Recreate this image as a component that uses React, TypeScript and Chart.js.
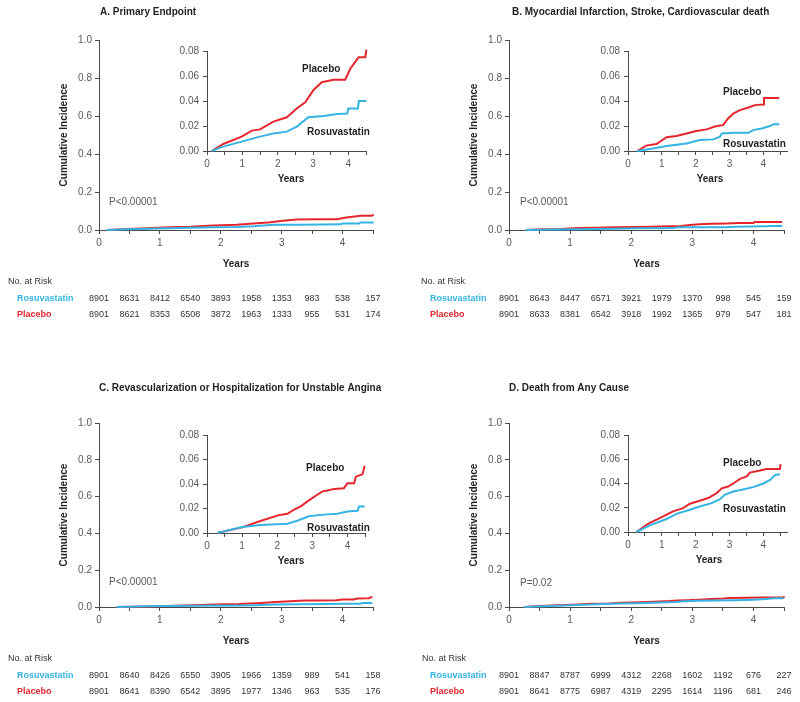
import React, { useEffect, useRef } from 'react';
import { Chart, registerables } from 'chart.js';

Chart.register(...registerables);

const FONT = "'Liberation Sans', Arial, Helvetica, sans-serif";
const RED = '#e5262d';
const BLUE = '#35b4e4';
const AXIS = '#4a4a4a';
const TICK = '#58595b';
const DARK = '#231f20';

// ---------- data ----------
const riskYears = [0, 0.5, 1, 1.5, 2, 2.5, 3, 3.5, 4, 4.5];

// Panel A: Primary Endpoint
const aPlaceboT = [0.13, 0.46, 0.98, 1.27, 1.5, 1.88, 2.26, 2.54, 2.78, 3.02, 3.25, 3.58, 3.91, 4.06, 4.2, 4.29, 4.48, 4.51];
const aPlaceboV = [0, 0.0056, 0.0115, 0.0163, 0.0173, 0.0235, 0.027, 0.034, 0.039, 0.049, 0.055, 0.057, 0.057, 0.066, 0.0715, 0.075, 0.075, 0.081];
const aRosuT = [0.13, 0.46, 0.98, 1.5, 1.88, 2.26, 2.54, 2.87, 3.3, 3.68, 3.97, 4.0, 4.27, 4.3, 4.51];
const aRosuV = [0, 0.0035, 0.0075, 0.0115, 0.014, 0.0155, 0.0195, 0.027, 0.028, 0.0296, 0.03, 0.034, 0.034, 0.04, 0.04];
const aRiskRosu = [8901, 8631, 8412, 6540, 3893, 1958, 1353, 983, 538, 157];
const aRiskPlacebo = [8901, 8621, 8353, 6508, 3872, 1963, 1333, 955, 531, 174];

// Panel B: MI, Stroke, CV death
const bPlaceboT = [0.27, 0.54, 0.84, 1.14, 1.43, 1.73, 2.02, 2.32, 2.62, 2.81, 2.96, 3.11, 3.31, 3.56, 3.75, 4.0, 4.02, 4.47];
const bPlaceboV = [0, 0.0043, 0.0056, 0.011, 0.012, 0.014, 0.016, 0.0173, 0.02, 0.0207, 0.026, 0.03, 0.0327, 0.0348, 0.0367, 0.0372, 0.0425, 0.0425];
const bRosuT = [0.27, 0.74, 1.14, 1.73, 2.12, 2.52, 2.72, 2.77, 3.11, 3.56, 3.7, 3.95, 4.2, 4.3, 4.47];
const bRosuV = [0, 0.002, 0.004, 0.006, 0.0088, 0.0093, 0.0114, 0.014, 0.0146, 0.0146, 0.0167, 0.018, 0.02, 0.0215, 0.0215];
const bRiskRosu = [8901, 8643, 8447, 6571, 3921, 1979, 1370, 998, 545, 159];
const bRiskPlacebo = [8901, 8633, 8381, 6542, 3918, 1992, 1365, 979, 547, 181];

// Panel C: Revascularization or Hospitalization for Unstable Angina
const cPlaceboT = [0.29, 1.0, 1.52, 2.05, 2.29, 2.48, 2.67, 2.9, 3.14, 3.29, 3.43, 3.62, 3.9, 4.0, 4.19, 4.24, 4.43, 4.49];
const cPlaceboV = [0, 0.0046, 0.0098, 0.0146, 0.0157, 0.019, 0.0217, 0.0266, 0.0312, 0.034, 0.0347, 0.036, 0.0366, 0.0407, 0.0407, 0.046, 0.048, 0.0548];
const cRosuT = [0.29, 1.0, 1.52, 2.29, 2.57, 2.9, 3.33, 3.71, 4.0, 4.29, 4.33, 4.49];
const cRosuV = [0, 0.0049, 0.0065, 0.0076, 0.01, 0.0136, 0.015, 0.0157, 0.0176, 0.0182, 0.0217, 0.0217];
const cRiskRosu = [8901, 8640, 8426, 6550, 3905, 1966, 1359, 989, 541, 158];
const cRiskPlacebo = [8901, 8641, 8390, 6542, 3895, 1977, 1346, 963, 535, 176];

// Panel D: Death from Any Cause
const dPlaceboT = [0.25, 0.59, 1.04, 1.33, 1.63, 1.83, 2.12, 2.37, 2.62, 2.77, 2.96, 3.11, 3.31, 3.51, 3.6, 3.9, 4.1, 4.49, 4.51];
const dPlaceboV = [0, 0.0068, 0.0129, 0.017, 0.0197, 0.0233, 0.0258, 0.028, 0.032, 0.036, 0.0375, 0.04, 0.0438, 0.0458, 0.049, 0.0507, 0.052, 0.052, 0.056];
const dRosuT = [0.25, 0.64, 1.14, 1.43, 1.83, 2.12, 2.47, 2.72, 2.86, 3.11, 3.36, 3.7, 4.0, 4.2, 4.35, 4.49];
const dRosuV = [0, 0.0055, 0.0107, 0.015, 0.0184, 0.021, 0.0238, 0.027, 0.0307, 0.0334, 0.0348, 0.037, 0.04, 0.043, 0.047, 0.0477];
const dRiskRosu = [8901, 8847, 8787, 6999, 4312, 2268, 1602, 1192, 676, 227];
const dRiskPlacebo = [8901, 8641, 8775, 6987, 4319, 2295, 1614, 1196, 681, 246];

// ---------- layout ----------
type Box = { L: number; T: number; R: number; B: number };
type Panel = {
  key: string; ox: number; oy: number; title: string; titleX: number; titleY: number;
  pText: string; pX: number; pY: number; main: Box; inset: Box; insetMax: number; insetYearsX: number;
  placeboLbl: [number, number]; rosuLbl: [number, number]; noRiskX: number; tableLblX: number;
  plaT: number[]; plaV: number[]; rosT: number[]; rosV: number[]; riskR: number[]; riskP: number[];
};

const panels: Panel[] = [
  {
    key: 'A', ox: 0, oy: 0, title: 'A. Primary Endpoint', titleX: 100, titleY: 12,
    pText: 'P<0.00001', pX: 109, pY: 202,
    main: { L: 99, T: 40, R: 373, B: 230 }, inset: { L: 207, T: 51, R: 366, B: 151 }, insetMax: 4.5, insetYearsX: 291,
    placeboLbl: [302, 69], rosuLbl: [307, 132], noRiskX: 8, tableLblX: 17,
    plaT: aPlaceboT, plaV: aPlaceboV, rosT: aRosuT, rosV: aRosuV, riskR: aRiskRosu, riskP: aRiskPlacebo,
  },
  {
    key: 'B', ox: 400, oy: 0, title: 'B. Myocardial Infarction, Stroke, Cardiovascular death', titleX: 512, titleY: 12,
    pText: 'P<0.00001', pX: 520, pY: 202,
    main: { L: 509, T: 40, R: 784, B: 230 }, inset: { L: 628, T: 51, R: 787, B: 151 }, insetMax: 4.7, insetYearsX: 710,
    placeboLbl: [723, 92], rosuLbl: [723, 144], noRiskX: 421, tableLblX: 430,
    plaT: bPlaceboT, plaV: bPlaceboV, rosT: bRosuT, rosV: bRosuV, riskR: bRiskRosu, riskP: bRiskPlacebo,
  },
  {
    key: 'C', ox: 0, oy: 351, title: 'C. Revascularization or Hospitalization for Unstable Angina', titleX: 99, titleY: 388,
    pText: 'P<0.00001', pX: 109, pY: 582,
    main: { L: 99, T: 423, R: 373, B: 607 }, inset: { L: 207, T: 435, R: 365, B: 533 }, insetMax: 4.5, insetYearsX: 291,
    placeboLbl: [306, 468], rosuLbl: [307, 528], noRiskX: 8, tableLblX: 17,
    plaT: cPlaceboT, plaV: cPlaceboV, rosT: cRosuT, rosV: cRosuV, riskR: cRiskRosu, riskP: cRiskPlacebo,
  },
  {
    key: 'D', ox: 400, oy: 351, title: 'D. Death from Any Cause', titleX: 509, titleY: 388,
    pText: 'P=0.02', pX: 520, pY: 583,
    main: { L: 509, T: 423, R: 784, B: 607 }, inset: { L: 628, T: 435, R: 787, B: 532 }, insetMax: 4.7, insetYearsX: 709,
    placeboLbl: [723, 463], rosuLbl: [723, 509], noRiskX: 422, tableLblX: 430,
    plaT: dPlaceboT, plaV: dPlaceboV, rosT: dRosuT, rosV: dRosuV, riskR: dRiskRosu, riskP: dRiskPlacebo,
  },
];

const PANEL_W = 400;
const PANEL_H = 351;

function pts(t: number[], v: number[]) {
  return t.map((x, i) => ({ x, y: v[i] }));
}

function datasets(p: Panel) {
  return [
    { label: 'Rosuvastatin', data: pts(p.rosT, p.rosV), borderColor: BLUE, backgroundColor: BLUE, borderWidth: 2, pointRadius: 0, tension: 0, fill: false, clip: false },
    { label: 'Placebo', data: pts(p.plaT, p.plaV), borderColor: RED, backgroundColor: RED, borderWidth: 2, pointRadius: 0, tension: 0, fill: false, clip: false },
  ];
}

function axisCommon(fontSize: number) {
  return {
    grid: { display: true, drawOnChartArea: false, drawTicks: true, tickLength: 4, color: AXIS, lineWidth: 1 },
    border: { display: true, color: AXIS, width: 1 },
    ticks: { font: { family: FONT, size: fontSize }, color: TICK, padding: 3, autoSkip: false, maxRotation: 0, includeBounds: false },
  };
}

function decorPlugin(p: Panel) {
  return {
    id: 'decor' + p.key,
    afterDraw(chart: any) {
      const ctx = chart.ctx as CanvasRenderingContext2D;
      const ox = p.ox, oy = p.oy;
      const m = p.main;
      ctx.save();
      ctx.textBaseline = 'middle';
      // panel title
      ctx.fillStyle = DARK;
      ctx.textAlign = 'left';
      ctx.font = `bold 10px ${FONT}`;
      ctx.fillText(p.title, p.titleX - ox, p.titleY - oy);
      // y axis title
      ctx.save();
      ctx.translate(m.L - 35 - ox, (m.T + m.B) / 2 - oy);
      ctx.rotate(-Math.PI / 2);
      ctx.textAlign = 'center';
      ctx.fillText('Cumulative Incidence', 0, 0);
      ctx.restore();
      // x axis titles
      ctx.textAlign = 'center';
      ctx.fillText('Years', (m.L + m.R) / 2 - ox, m.B + 34 - oy);
      ctx.fillText('Years', p.insetYearsX - ox, p.inset.B + 28 - oy);
      // inset curve labels
      ctx.textAlign = 'left';
      ctx.fillText('Placebo', p.placeboLbl[0] - ox, p.placeboLbl[1] - oy);
      ctx.fillText('Rosuvastatin', p.rosuLbl[0] - ox, p.rosuLbl[1] - oy);
      // p value
      ctx.font = `10px ${FONT}`;
      ctx.fillStyle = TICK;
      ctx.fillText(p.pText, p.pX - ox, p.pY - oy);
      // risk table
      ctx.font = `9px ${FONT}`;
      ctx.fillStyle = '#333333';
      ctx.fillText('No. at Risk', p.noRiskX - ox, m.B + 52 - oy);
      ctx.font = `bold 9px ${FONT}`;
      ctx.fillStyle = BLUE;
      ctx.fillText('Rosuvastatin', p.tableLblX - ox, m.B + 69 - oy);
      ctx.fillStyle = RED;
      ctx.fillText('Placebo', p.tableLblX - ox, m.B + 85 - oy);
      ctx.font = `9px ${FONT}`;
      ctx.fillStyle = '#333333';
      ctx.textAlign = 'center';
      const xs = chart.scales.x;
      riskYears.forEach((yr, i) => {
        const x = xs.getPixelForValue(yr);
        ctx.fillText(String(p.riskR[i]), x, m.B + 69 - oy);
        ctx.fillText(String(p.riskP[i]), x, m.B + 85 - oy);
      });
      ctx.restore();
    },
  };
}

function mainConfig(p: Panel): any {
  const L = p.main.L - p.ox, T = p.main.T - p.oy, R = p.main.R - p.ox, B = p.main.B - p.oy;
  const xc = axisCommon(10);
  const yc = axisCommon(10);
  return {
    type: 'line',
    data: { datasets: datasets(p) },
    options: {
      responsive: false,
      animation: false,
      events: [],
      layout: { padding: { left: 0, top: T, right: PANEL_W - R, bottom: 0 } },
      plugins: { legend: { display: false }, tooltip: { enabled: false }, title: { display: false } },
      scales: {
        x: {
          type: 'linear', min: 0, max: 4.5,
          afterFit: (s: any) => { s.height = PANEL_H - B; },
          ...xc,
          ticks: { ...xc.ticks, stepSize: 0.5, callback: (v: number) => (Number.isInteger(v) ? String(v) : '') },
        },
        y: {
          type: 'linear', min: 0, max: 1,
          afterFit: (s: any) => { s.width = L; },
          ...yc,
          ticks: { ...yc.ticks, stepSize: 0.2, callback: (v: number) => Number(v).toFixed(1) },
        },
      },
    },
    plugins: [decorPlugin(p)],
  };
}

const INS_LEFT = 50, INS_TOP = 12, INS_RIGHT = 10, INS_BOTTOM = 22;

function insetConfig(p: Panel): any {
  const xc = axisCommon(10);
  const yc = axisCommon(10);
  return {
    type: 'line',
    data: { datasets: datasets(p) },
    options: {
      responsive: false,
      animation: false,
      events: [],
      layout: { padding: { left: 0, top: INS_TOP, right: INS_RIGHT, bottom: 0 } },
      plugins: { legend: { display: false }, tooltip: { enabled: false }, title: { display: false } },
      scales: {
        x: {
          type: 'linear', min: 0, max: p.insetMax,
          afterFit: (s: any) => { s.height = INS_BOTTOM; },
          ...xc,
          ticks: { ...xc.ticks, stepSize: 0.5, callback: (v: number) => (Number.isInteger(v) ? String(v) : '') },
        },
        y: {
          type: 'linear', min: 0, max: 0.08,
          afterFit: (s: any) => { s.width = INS_LEFT; },
          ...yc,
          ticks: { ...yc.ticks, padding: 4, stepSize: 0.02, callback: (v: number) => Number(v).toFixed(2) },
        },
      },
    },
  };
}

function ChartCanvas(props: { make: () => any; left: number; top: number; width: number; height: number }) {
  const ref = useRef<HTMLCanvasElement | null>(null);
  useEffect(() => {
    if (!ref.current) return;
    const c = new Chart(ref.current, props.make());
    return () => c.destroy();
  }, []);
  return (
    <canvas
      ref={ref}
      width={props.width}
      height={props.height}
      style={{ position: 'absolute', left: props.left, top: props.top, width: props.width, height: props.height }}
    />
  );
}

export default function App() {
  return (
    <div style={{ position: 'absolute', left: 0, top: 0, width: 800, height: 702, background: '#ffffff', overflow: 'hidden' }}>
      {panels.map((p) => (
        <React.Fragment key={p.key}>
          <ChartCanvas make={() => mainConfig(p)} left={p.ox} top={p.oy} width={PANEL_W} height={PANEL_H} />
          <ChartCanvas
            make={() => insetConfig(p)}
            left={p.inset.L - INS_LEFT}
            top={p.inset.T - INS_TOP}
            width={p.inset.R - p.inset.L + INS_LEFT + INS_RIGHT}
            height={p.inset.B - p.inset.T + INS_TOP + INS_BOTTOM}
          />
        </React.Fragment>
      ))}
    </div>
  );
}
